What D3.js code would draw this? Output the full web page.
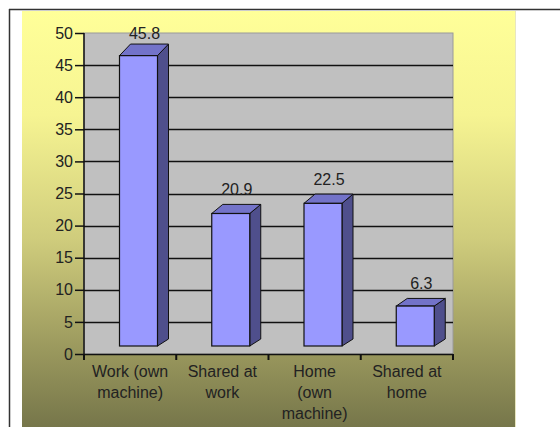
<!DOCTYPE html>
<html>
<head>
<meta charset="utf-8">
<script src="https://cdn.jsdelivr.net/npm/d3@7"></script>
<style>
  html, body { margin: 0; padding: 0; background: #fff; }
  svg { display: block; }
  text { font-family: "Liberation Sans", Arial, sans-serif; fill: #222; }
</style>
</head>
<body>
<svg id="chart" width="560" height="427"></svg>
<script>
// ---- data ----
const categories = [["Work (own", "machine)"], ["Shared at", "work"], ["Home", "(own", "machine)"], ["Shared at", "home"]];
const values = [45.8, 20.9, 22.5, 6.3];
const valueLabels = ["45.8", "20.9", "22.5", "6.3"];
const yTicks = [0, 5, 10, 15, 20, 25, 30, 35, 40, 45, 50];

const svg = d3.select("#chart");

// background gradient
const defs = svg.append("defs");
const grad = defs.append("linearGradient").attr("id", "bg").attr("x1", 0).attr("y1", 0).attr("x2", 0).attr("y2", 1);
grad.append("stop").attr("offset", "0").attr("stop-color", "#ffff99");
grad.append("stop").attr("offset", "0.25").attr("stop-color", "#f6f492");
grad.append("stop").attr("offset", "0.55").attr("stop-color", "#cfcc7c");
grad.append("stop").attr("offset", "0.8").attr("stop-color", "#9d9b5f");
grad.append("stop").attr("offset", "1").attr("stop-color", "#76764a");

// outer frame lines
svg.append("line").attr("x1", 9).attr("y1", 9.5).attr("x2", 560).attr("y2", 9.5).attr("stroke", "#333").attr("stroke-width", 1.5);
svg.append("line").attr("x1", 9.5).attr("y1", 9).attr("x2", 9.5).attr("y2", 427).attr("stroke", "#333").attr("stroke-width", 1.5);

svg.append("rect").attr("x", 22).attr("y", 11).attr("width", 493).attr("height", 416).attr("fill", "url(#bg)");
svg.append("line").attr("x1", 515.5).attr("y1", 11).attr("x2", 515.5).attr("y2", 427).attr("stroke", "#e8e6c0").attr("stroke-width", 1);

// scales
const plotL = 84, plotR = 453, plotT = 33, plotB = 354;
const x = d3.scaleBand().domain(d3.range(categories.length)).range([plotL, plotR]).padding(0);
const yGrid = d3.scaleLinear().domain([0, 50]).range([plotB, plotT]);
const baseFront = 346;
const yBar = d3.scaleLinear().domain([0, 50]).range([baseFront, baseFront - 6.34 * 50]);

// plot area (back wall + floor)
svg.append("rect").attr("x", plotL).attr("y", plotT).attr("width", plotR - plotL).attr("height", plotB - plotT)
  .attr("fill", "#c0c0c0").attr("stroke", "#9a9a9a").attr("stroke-width", 1);

// gridlines
svg.append("g").selectAll("line").data(yTicks.filter(t => t > 0 && t < 50)).join("line")
  .attr("x1", plotL).attr("x2", plotR)
  .attr("y1", d => Math.round(yGrid(d)) + 0.5).attr("y2", d => Math.round(yGrid(d)) + 0.5)
  .attr("stroke", "#111").attr("stroke-width", 1.6);

// bars
const frontW = 38, offL = 35.5, dx = 11;
const bars = svg.append("g");
values.forEach((v, i) => {
  const xl = x(i) + offL, xr = xl + frontW;
  const yt = yBar(v), yb = baseFront;
  const dyT = -(7 + v * 0.1), dyB = -7;
  // side face
  bars.append("path")
    .attr("d", `M${xr},${yt} L${xr + dx},${yt + dyT} L${xr + dx},${yb + dyB} L${xr},${yb} Z`)
    .attr("fill", "#4f4f8c").attr("stroke", "#111").attr("stroke-width", 1).attr("stroke-linejoin", "round");
  // top face
  bars.append("path")
    .attr("d", `M${xl},${yt} L${xl + dx},${yt + dyT} L${xr + dx},${yt + dyT} L${xr},${yt} Z`)
    .attr("fill", "#7373c9").attr("stroke", "#111").attr("stroke-width", 1).attr("stroke-linejoin", "round");
  // front face
  bars.append("rect").attr("x", xl).attr("y", yt).attr("width", frontW).attr("height", yb - yt)
    .attr("fill", "#9999ff").attr("stroke", "#111").attr("stroke-width", 1.2);
  // value label
  svg.append("text").attr("x", xl + frontW / 2 + 6).attr("y", Math.max(yGrid(v) - 30, 33))
    .attr("text-anchor", "middle").attr("dominant-baseline", "central")
    .attr("font-size", "16px").text(valueLabels[i]);
});

// value axis
const yAxis = d3.axisLeft(yGrid).tickValues(yTicks).tickSize(9).tickPadding(2);
const gy = svg.append("g").attr("transform", `translate(${plotL},0)`).call(yAxis);
gy.select(".domain").attr("stroke", "#111").attr("stroke-width", 1.5).attr("d", `M0,${plotT}V${plotB}`);
gy.selectAll(".tick line").attr("stroke", "#111").attr("stroke-width", 1.5);
gy.selectAll(".tick text").attr("font-size", "16px").attr("fill", "#222")
  .attr("font-family", "Liberation Sans, Arial, sans-serif");

// category axis
svg.append("line").attr("x1", plotL).attr("x2", plotR).attr("y1", plotB + 0.5).attr("y2", plotB + 0.5)
  .attr("stroke", "#111").attr("stroke-width", 1.5);
const bounds = d3.range(categories.length + 1).map(i => plotL + i * x.bandwidth());
svg.append("g").selectAll("line").data(bounds).join("line")
  .attr("x1", d => d).attr("x2", d => d).attr("y1", plotB).attr("y2", plotB + 6)
  .attr("stroke", "#111").attr("stroke-width", 2);

const cl = svg.append("g").selectAll("text").data(categories).join("text")
  .attr("text-anchor", "middle").attr("font-size", "16px")
  .attr("x", (d, i) => x(i) + x.bandwidth() / 2).attr("y", 377);
cl.selectAll("tspan").data(d => d).join("tspan")
  .attr("x", function() { return d3.select(this.parentNode).attr("x"); })
  .attr("dy", (d, j) => j === 0 ? 0 : 21)
  .text(d => d);
</script>
</body>
</html>
